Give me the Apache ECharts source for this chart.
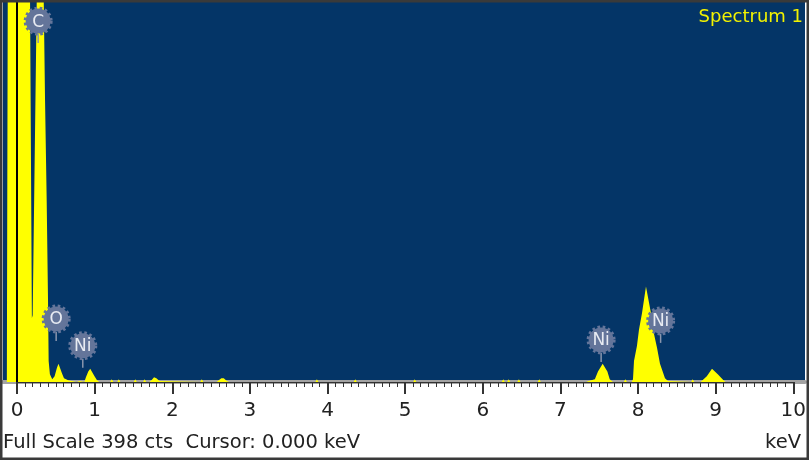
<!DOCTYPE html>
<html>
<head>
<meta charset="utf-8">
<title>Spectrum 1</title>
<script src="https://cdn.jsdelivr.net/npm/echarts@6/dist/echarts.min.js"></script>
<style>
html,body{margin:0;padding:0;background:#fff;}
#spectrum{width:809px;height:460px;}
</style>
</head>
<body>
<div id="spectrum"></div>
<script>
// 能谱数据：能量(keV) / 计数(cts)，超出满量程的部分被裁掉
var energy=[-0.13,-0.118,0.165,0.19,0.20,0.255,0.338,0.358,0.379,0.396,0.404,0.42,0.45,0.48,0.51,0.53,0.55,0.575,0.60,0.62,0.66,0.70,0.72,
    0.76,0.78,0.80,0.82,
    0.86,0.88,0.91,0.935,0.96,0.99,1.02,1.05,
    1.19,1.21,1.23, 1.28,1.30,1.32, 1.49,1.51,1.53, 1.61,1.63,1.65,
    1.69,1.72,1.75,1.78,1.82,1.84,
    2.34,2.36,2.38,
    2.55,2.58,2.61,2.64,2.68,2.71,
    3.81,3.83,3.85, 4.30,4.32,4.34, 5.06,5.08,5.10,
    6.19,6.21,6.23, 6.26,6.28,6.30, 6.39,6.41,6.43, 6.65,6.67,6.69,
    7.27,7.30,7.38,7.42,7.48,7.54,7.57,7.61,
    7.75,7.77,7.79,
    7.85,7.867,7.88,7.918,7.944,7.982,8.033,8.097,8.123,8.174,8.212,8.276,8.314,8.33,
    8.61,8.63,8.65,
    8.73,8.75,8.81,8.876,8.90,8.95,9.02,9.05,
    10.1];
var counts=[0,420,420,67,70,420,420,295,190,85,22,8,3,6,15,19,18,9,4,2,1.5,1,0,
    0,2,1,0,
    0,5,11,14,12,6,2,0,
    0,3,0, 0,3,0, 0,3,0, 0,3,0,
    0,2,5,4,1,0,
    0,3,0,
    0,2,4,4,1,0,
    0,3,0, 0,3,0, 0,3,0,
    0,3,0, 0,3,0, 0,3,0, 0,3,0,
    0,1,3,11,19,11,3,0,
    0,3,0,
    0,3,22,38,55,72,100,72,55,36,19,4,1,0,
    0,3,0,
    0,1,6,14,15,8,2,0,
    0];

// 元素标注
var peakEnergy=[0.27,0.50,0.84,7.46,8.22];
var peakCounts=[378,66,38,44,64];
var peakName=['C','O','Ni','Ni','Ni'];

var fullScale=398;
var cursorKeV=0;
var spectrumName='Spectrum 1';

$init();

function $init() {
    var myChart=echarts.init(document.getElementById('spectrum'));

    var line=[];
    for(var i=0;i<energy.length;i++){
        line.push([energy[i],counts[i]]);
    }
    var marks=[];
    for(var i=0;i<peakEnergy.length;i++){
        marks.push([peakEnergy[i],peakCounts[i]]);
    }

    var option={
        animation:false,
        backgroundColor:'#fff',
        grid:[
            {left:3,right:4,top:2,bottom:78,show:true,backgroundColor:'#043567',borderWidth:0},
            {left:17,right:9,top:2,bottom:78}
        ],
        xAxis:[
            {
                gridIndex:0,type:'value',min:-0.179,max:10.064,offset:2,
                axisLine:{show:true,lineStyle:{color:'#a3a3a3',width:4}},
                axisTick:{show:false},axisLabel:{show:false},splitLine:{show:false}
            },
            {
                gridIndex:1,type:'value',min:0,max:10,interval:1,offset:6,
                axisLine:{show:true,lineStyle:{color:'#333',width:1}},
                axisTick:{show:true,length:12,inside:false,lineStyle:{color:'#333',width:2}},
                minorTick:{show:true,splitNumber:10,length:5,lineStyle:{color:'#333',width:1}},
                axisLabel:{show:true,margin:13,color:'#222',fontSize:20,fontFamily:'DejaVu Sans'},
                splitLine:{show:false}
            }
        ],
        yAxis:[
            {gridIndex:0,type:'value',min:0,max:fullScale,show:false},
            {gridIndex:1,type:'value',min:0,max:fullScale,show:false}
        ],
        series:[
            {
                type:'line',
                xAxisIndex:0,yAxisIndex:0,
                z:2,
                data:line,
                showSymbol:false,
                clip:true,
                lineStyle:{width:0},
                areaStyle:{color:'#ffff00',opacity:1},
                markLine:{
                    silent:true,
                    symbol:'none',
                    label:{show:false},
                    lineStyle:{color:'#000',width:2,type:'solid'},
                    data:[{xAxis:cursorKeV}]
                }
            },
            {
                type:'custom',
                xAxisIndex:0,yAxisIndex:0,
                z:10,
                clip:false,
                data:marks,
                renderItem:function (params,api) {
                    var p=api.coord([api.value(0),api.value(1)]);
                    return {
                        type:'group',
                        children:[
                            {type:'line',shape:{x1:p[0],y1:p[1]+13,x2:p[0],y2:p[1]+22},style:{stroke:'#8a96ad',lineWidth:1.5}},
                            {type:'circle',shape:{cx:p[0],cy:p[1],r:12.5},style:{fill:'#64759a',stroke:'#64759a',lineWidth:4,lineDash:[2.5,2.5]}},
                            {type:'text',style:{text:peakName[params.dataIndex],x:p[0],y:p[1]+1,textAlign:'center',textVerticalAlign:'middle',fill:'#e8ebf2',font:'17px "DejaVu Sans"'}}
                        ]
                    };
                }
            }
        ],
        graphic:[
            {type:'text',z:100,style:{text:spectrumName,x:803,y:17,textAlign:'right',textVerticalAlign:'middle',fill:'#f2f200',font:'18px "DejaVu Sans"'}},
            {type:'text',z:100,style:{text:'Full Scale '+fullScale+' cts  Cursor: '+cursorKeV.toFixed(3)+' keV',x:3,y:443,textAlign:'left',textVerticalAlign:'middle',fill:'#222',font:'19.5px "DejaVu Sans"'}},
            {type:'text',z:100,style:{text:'keV',x:801,y:443,textAlign:'right',textVerticalAlign:'middle',fill:'#222',font:'19.5px "DejaVu Sans"'}},
            {type:'rect',z:110,silent:true,shape:{x:1,y:1,width:807,height:458},style:{fill:'none',stroke:'#3a3a3a',lineWidth:3}}
        ]
    };

    myChart.setOption(option);
};
</script>
</body>
</html>
